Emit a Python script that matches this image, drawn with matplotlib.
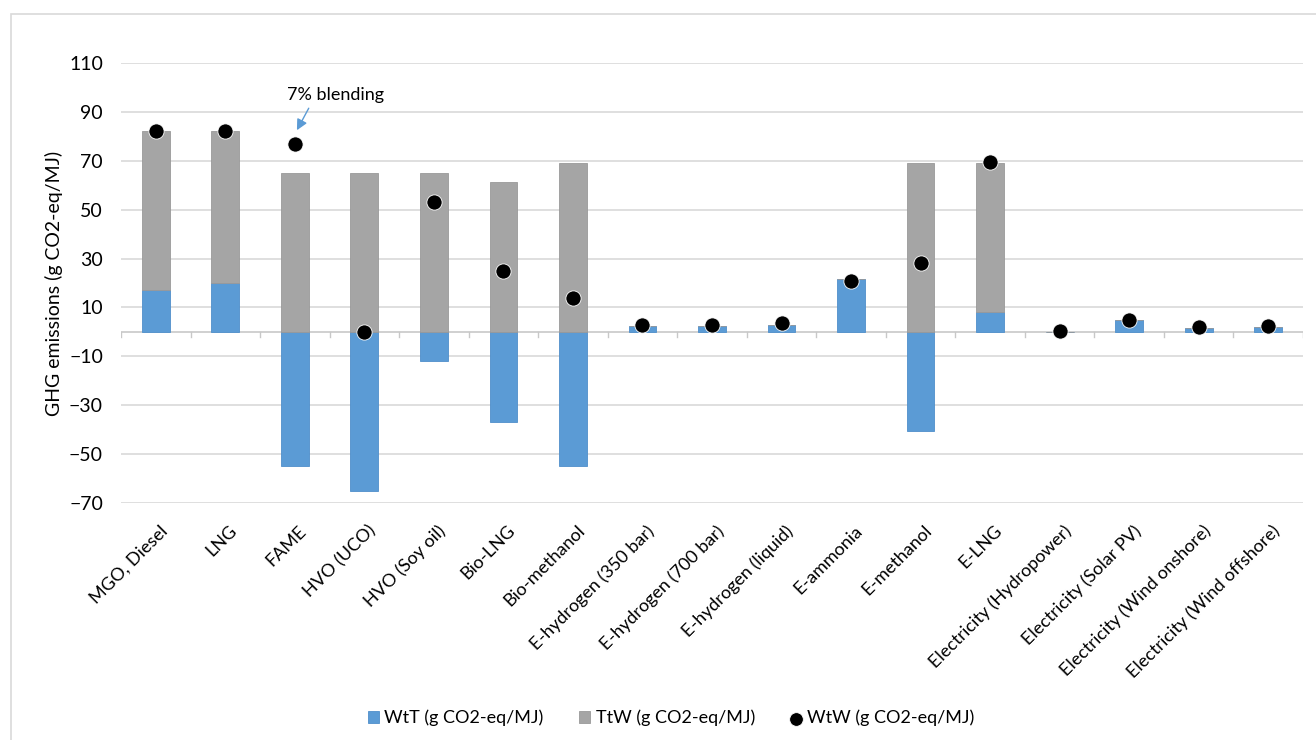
import matplotlib.pyplot as plt
from matplotlib.patches import Rectangle
import numpy as np

plt.rcParams['font.family'] = ['Lato', 'DejaVu Sans']

fuels = ['MGO, Diesel', 'LNG', 'FAME', 'HVO (UCO)', 'HVO (Soy oil)', 'Bio-LNG',
         'Bio-methanol', 'E-hydrogen (350 bar)', 'E-hydrogen (700 bar)',
         'E-hydrogen (liquid)', 'E-ammonia', 'E-methanol', 'E-LNG',
         'Electricity (Hydropower)', 'Electricity (Solar PV)',
         'Electricity (Wind onshore)', 'Electricity (Wind offshore)']
wtt = [17, 20, -55, -65, -12, -37, -55, 2.5, 2.5, 3, 21.5, -40.5, 8, 0, 5, 1.5, 2]
ttw = [65, 62, 65, 65, 65, 61.5, 69, 0, 0, 0, 0, 69, 61, 0, 0, 0, 0]
wtw = [82, 82, 77, 0, 53, 25, 14, 3, 3, 3.5, 21, 28, 69.5, 0.5, 5, 2, 2.5]

blue = '#5b9bd5'
grey = '#a5a5a5'

fig = plt.figure(figsize=(13.16, 7.4), dpi=100)
ax = fig.add_axes([121 / 1316, 1 - 503 / 740, (1303 - 121) / 1316, 440 / 740])

x = np.arange(len(fuels))
wtt_arr = np.array(wtt)
# TtW sits on top of positive WtT, starts at zero otherwise
ttw_base = np.clip(wtt_arr, 0, None)

ax.bar(x, wtt, width=0.4, color=blue, edgecolor='#4f8fcb', linewidth=0.6,
       label='WtT (g CO2-eq/MJ)', zorder=2)
ax.bar(x, ttw, width=0.4, bottom=ttw_base, color=grey, edgecolor='#999999',
       linewidth=0.6, label='TtW (g CO2-eq/MJ)', zorder=2)
ax.scatter(x, wtw, s=120, color='black', edgecolors='white', linewidths=0.6,
           label='WtW (g CO2-eq/MJ)', zorder=3)

ax.set_xlim(-0.5, len(fuels) - 0.5)
ax.set_ylim(-70, 110)
ax.set_yticks(np.arange(-70, 111, 20))
ax.yaxis.grid(True, color='#d9d9d9', linewidth=1.2)
ax.set_axisbelow(True)
for s in ax.spines.values():
    s.set_visible(False)
ax.tick_params(axis='y', length=0, labelsize=14, pad=13)
ax.set_ylabel('GHG emissions (g CO2-eq/MJ)', fontsize=14, labelpad=4)

# zero line with category separator ticks
ax.axhline(0, color='#c8c8c8', linewidth=1.2, zorder=1)
for b in np.arange(-0.5, len(fuels), 1.0):
    ax.plot([b, b], [0, -2.2], color='#c8c8c8', linewidth=1.0, zorder=1)

ax.set_xticks(x)
ax.set_xticklabels([])
ax.tick_params(axis='x', length=0)
for xi, name in zip(x, fuels):
    ax.text(xi + 0.05, -78, name, rotation=45, ha='right', va='top',
            rotation_mode='anchor', fontsize=13)

ax.text(2.58, 97, '7% blending', ha='center', va='center', fontsize=13)
ax.annotate('', xy=(2.03, 82.5), xytext=(2.2, 91.5),
            arrowprops=dict(arrowstyle='-|>', color=blue, lw=1.0,
                            mutation_scale=16, shrinkA=0, shrinkB=0))

handles, labels = ax.get_legend_handles_labels()
order = [labels.index(l) for l in ['WtT (g CO2-eq/MJ)', 'TtW (g CO2-eq/MJ)',
                                   'WtW (g CO2-eq/MJ)']]
leg = fig.legend([handles[i] for i in order], [labels[i] for i in order],
                 loc='center', bbox_to_anchor=(0.51, 1 - 718 / 740),
                 ncol=3, frameon=False, fontsize=13, handlelength=0.6,
                 handleheight=0.6, columnspacing=2.0, handletextpad=0.3,
                 markerscale=0.9)

# chart frame
fig.patches.append(Rectangle((11 / 1316, -0.1), 1.2, 0.1 + (740 - 14) / 740,
                             transform=fig.transFigure, fill=False,
                             edgecolor='#d9d9d9', linewidth=1.2))

fig.savefig('out.png', dpi=100)
